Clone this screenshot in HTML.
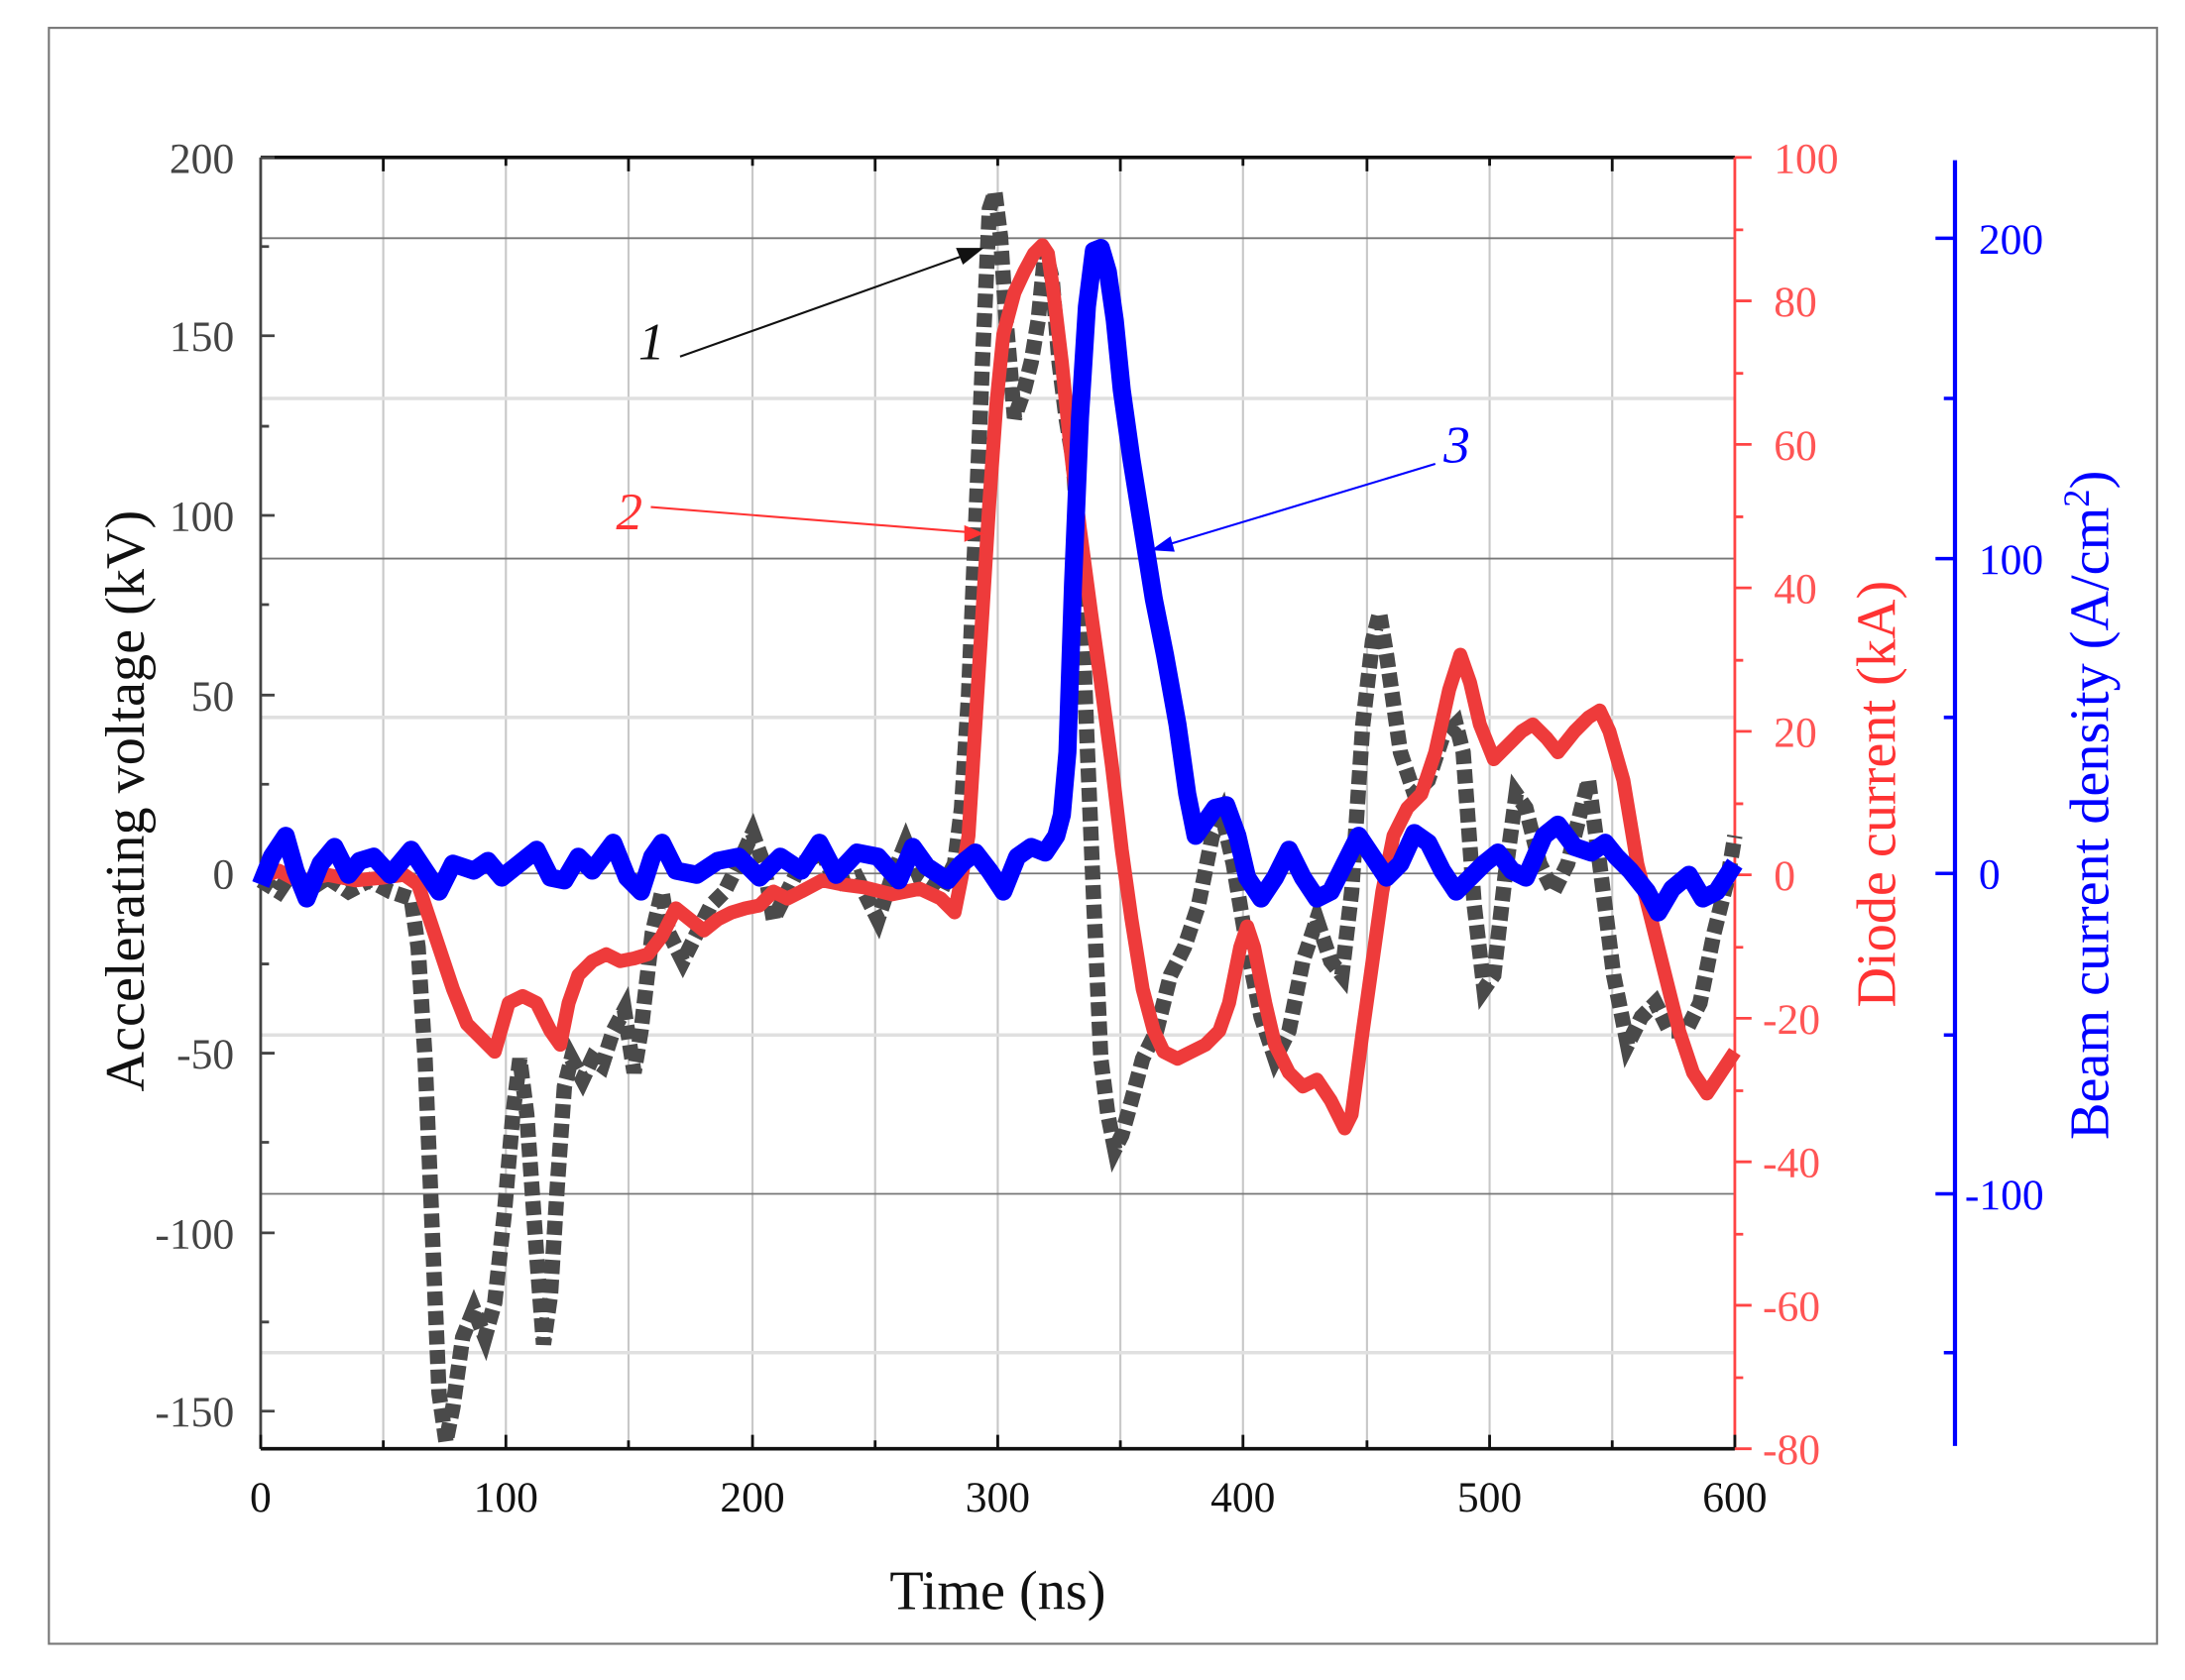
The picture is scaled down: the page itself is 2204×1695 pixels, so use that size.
<!DOCTYPE html>
<html><head><meta charset="utf-8"><style>
html,body{margin:0;padding:0;background:#fff;}
svg{display:block;}
text{font-family:"Liberation Serif",serif;}
</style></head><body>
<svg width="2204" height="1695" viewBox="0 0 1568 1206" xmlns="http://www.w3.org/2000/svg">
<rect x="35" y="20" width="1513" height="1160" fill="#fff" stroke="#777" stroke-width="1.5"/>
<g stroke="#c8c8c8" stroke-width="1.5">
<line x1="275" y1="113" x2="275" y2="1040"/><line x1="363" y1="113" x2="363" y2="1040"/>
<line x1="451" y1="113" x2="451" y2="1040"/><line x1="540" y1="113" x2="540" y2="1040"/>
<line x1="628" y1="113" x2="628" y2="1040"/><line x1="716" y1="113" x2="716" y2="1040"/>
<line x1="804" y1="113" x2="804" y2="1040"/><line x1="892" y1="113" x2="892" y2="1040"/>
<line x1="981" y1="113" x2="981" y2="1040"/><line x1="1069" y1="113" x2="1069" y2="1040"/>
<line x1="1157" y1="113" x2="1157" y2="1040"/>
</g>
<g stroke="#e0e0e0" stroke-width="2.5">
<line x1="187" y1="286" x2="1245" y2="286"/><line x1="187" y1="515" x2="1245" y2="515"/>
<line x1="187" y1="743" x2="1245" y2="743"/><line x1="187" y1="971" x2="1245" y2="971"/>
</g>
<g stroke="#777" stroke-width="1.3">
<line x1="187" y1="171" x2="1245" y2="171"/><line x1="187" y1="401" x2="1245" y2="401"/>
<line x1="187" y1="627" x2="1245" y2="627"/><line x1="187" y1="857" x2="1245" y2="857"/>
</g>
<line x1="187" y1="113" x2="1245" y2="113" stroke="#111" stroke-width="2.5"/>
<line x1="187" y1="1040" x2="1245" y2="1040" stroke="#111" stroke-width="2.5"/>
<line x1="187" y1="113" x2="187" y2="1040" stroke="#444" stroke-width="2"/>
<line x1="1245" y1="113" x2="1245" y2="1040" stroke="#f44" stroke-width="2"/>
<line x1="1403" y1="115" x2="1403" y2="1038" stroke="#00f" stroke-width="3"/>
<g stroke="#111" stroke-width="2">
<path d="M187 1040v-10M275 1040v-6M363 1040v-10M451 1040v-6M540 1040v-10M628 1040v-6M716 1040v-10M804 1040v-6M892 1040v-10M981 1040v-6M1069 1040v-10M1157 1040v-6M1245 1040v-10"/>
<path d="M275 113v10M363 113v6M451 113v10M540 113v6M628 113v10M716 113v6M804 113v10M892 113v6M981 113v10M1069 113v6M1157 113v10"/>
</g>
<g stroke="#444" stroke-width="2">
<path d="M187 113h10M187 177h6M187 241h10M187 306h6M187 370h10M187 434h6M187 499h10M187 563h6M187 627h10M187 692h6M187 756h10M187 820h6M187 885h10M187 949h6M187 1013h10"/>
</g>
<g stroke="#f44" stroke-width="2">
<path d="M1245 113h12M1245 165h6M1245 216h12M1245 268h6M1245 319h12M1245 371h6M1245 422h12M1245 474h6M1245 525h12M1245 577h6M1245 628h12M1245 680h6M1245 731h12M1245 783h6M1245 834h12M1245 886h6M1245 937h12M1245 989h6M1245 1040h12"/>
</g>
<g stroke="#00f" stroke-width="2.5">
<path d="M1403 171h-14M1403 286h-8M1403 401h-14M1403 515h-8M1403 627h-14M1403 743h-8M1403 857h-14M1403 971h-8"/>
</g>
<g font-size="31" fill="#444" text-anchor="end">
<text x="168" y="124">200</text><text x="168" y="252">150</text><text x="168" y="381">100</text>
<text x="168" y="510">50</text><text x="168" y="638">0</text><text x="168" y="767">-50</text>
<text x="168" y="896">-100</text><text x="168" y="1024">-150</text>
</g>
<g font-size="31" fill="#111" text-anchor="middle">
<text x="187" y="1085">0</text><text x="363" y="1085">100</text><text x="540" y="1085">200</text>
<text x="716" y="1085">300</text><text x="892" y="1085">400</text><text x="1069" y="1085">500</text><text x="1245" y="1085">600</text>
</g>
<g font-size="31" fill="#f55">
<text x="1273" y="124">100</text><text x="1273" y="227">80</text><text x="1273" y="330">60</text>
<text x="1273" y="433">40</text><text x="1273" y="536">20</text><text x="1273" y="639">0</text>
<text x="1265" y="742">-20</text><text x="1265" y="845">-40</text><text x="1265" y="948">-60</text><text x="1265" y="1051">-80</text>
</g>
<g font-size="31" fill="#00f">
<text x="1420" y="182">200</text><text x="1420" y="412">100</text><text x="1420" y="638">0</text><text x="1410" y="868">-100</text>
</g>
<text x="716" y="1155" font-size="40" text-anchor="middle" fill="#111">Time (ns)</text>
<text transform="translate(103,575) rotate(-90)" font-size="40" text-anchor="middle" fill="#111">Accelerating voltage (kV)</text>
<text transform="translate(1360,570) rotate(-90)" font-size="40" text-anchor="middle" fill="#f33">Diode current (kA)</text>
<text transform="translate(1513,578) rotate(-90)" font-size="40" text-anchor="middle" fill="#00f">Beam current density (A/cm<tspan font-size="26" dy="-14">2</tspan><tspan dy="14">)</tspan></text>
<polyline fill="none" stroke="#4a4a4a" stroke-width="11" stroke-dasharray="10 4" points="187,632 200,640 210,625 220,640 235,630 250,640 265,632 280,640 295,645 300,680 305,760 310,880 315,1000 320,1035 325,1010 332,960 340,940 348,960 355,935 362,870 368,800 373,760 378,800 385,900 390,965 395,930 400,850 405,780 410,760 418,775 425,760 432,765 440,740 448,725 455,770 460,740 468,670 475,640 480,670 490,690 500,670 510,650 520,640 530,620 540,598 548,620 555,660 565,640 575,620 590,612 600,635 615,630 630,660 640,630 650,605 660,630 675,640 685,620 690,580 695,500 700,380 705,260 710,150 714,138 718,170 722,230 728,300 735,280 740,260 745,230 750,180 755,200 760,260 765,300 770,330 775,400 780,530 785,650 790,760 795,800 800,825 805,815 812,790 820,760 830,740 840,700 850,680 860,650 870,600 877,585 885,620 895,680 905,730 915,760 925,740 935,690 945,660 955,690 963,700 970,640 978,520 985,460 990,440 995,470 1005,540 1015,570 1025,560 1035,530 1045,520 1050,540 1058,650 1065,710 1072,700 1080,630 1088,570 1095,580 1105,620 1115,640 1125,620 1135,580 1140,560 1148,620 1158,700 1168,750 1178,730 1188,720 1198,740 1210,740 1220,720 1230,670 1240,630 1245,600"/>
<polyline fill="none" stroke="#ee3b3b" stroke-width="10" stroke-linejoin="round" points="187,630 200,625 215,633 235,628 255,632 275,630 290,628 300,635 305,650 315,680 325,710 335,735 345,745 355,755 365,720 375,715 385,720 395,740 402,750 408,720 415,700 425,690 435,685 445,690 455,688 465,685 475,672 485,652 495,660 505,668 515,660 525,655 535,652 545,650 555,640 565,645 575,640 590,632 605,635 620,637 640,642 660,638 675,645 685,655 690,630 695,600 700,520 705,440 710,360 715,290 720,240 728,210 735,195 742,182 748,176 752,182 756,210 762,260 768,320 775,380 783,440 790,490 798,550 805,610 812,660 820,710 828,740 835,755 845,760 855,755 865,750 875,740 882,720 890,680 895,665 900,680 908,720 915,750 925,770 935,780 945,775 955,790 965,810 970,800 978,740 985,690 992,640 1000,600 1010,580 1020,570 1030,540 1040,495 1048,470 1055,490 1062,520 1072,545 1082,535 1092,525 1100,520 1110,530 1118,540 1130,525 1140,515 1148,510 1155,525 1165,560 1175,620 1185,660 1195,700 1205,740 1215,770 1225,785 1235,770 1245,755"/>
<polyline fill="none" stroke="#0000ff" stroke-width="13" stroke-linejoin="round" points="187,635 195,615 205,600 212,625 220,645 230,620 240,608 250,628 258,618 268,615 280,628 295,610 305,625 315,640 325,620 340,625 350,618 360,630 375,618 385,610 395,630 405,632 415,615 425,625 440,605 450,630 460,640 468,615 475,605 485,625 500,628 515,618 530,615 545,630 560,615 575,625 588,605 600,628 615,612 630,615 645,632 655,608 665,622 680,632 690,620 700,612 710,625 720,640 730,615 740,608 750,612 758,600 762,585 766,540 770,420 775,300 780,220 785,180 790,178 795,195 800,230 805,280 812,330 820,380 828,430 836,470 845,520 852,570 858,600 865,590 872,580 880,578 888,600 895,630 905,645 915,630 925,610 935,630 945,645 955,640 965,620 975,600 985,615 995,630 1005,620 1015,598 1025,605 1035,625 1045,640 1055,630 1065,620 1075,612 1085,625 1095,630 1108,600 1118,592 1130,608 1142,612 1152,605 1160,615 1170,625 1182,640 1190,655 1200,638 1212,628 1222,645 1232,640 1245,620"/>
<text x="458" y="258" font-size="38" font-style="italic" fill="#111">1</text>
<line x1="488" y1="256" x2="690" y2="184" stroke="#111" stroke-width="1.5"/>
<polygon points="706,178 686,178 691,190" fill="#111"/>
<text x="442" y="380" font-size="38" font-style="italic" fill="#f33">2</text>
<line x1="467" y1="364" x2="695" y2="382" stroke="#f33" stroke-width="1.5"/>
<polygon points="706,383 692,377 692,389" fill="#f33"/>
<text x="1036" y="332" font-size="38" font-style="italic" fill="#00f">3</text>
<line x1="1030" y1="333" x2="838" y2="391" stroke="#00f" stroke-width="1.5"/>
<polygon points="826,395 840,385 843,396" fill="#00f"/>
</svg>
</body></html>
